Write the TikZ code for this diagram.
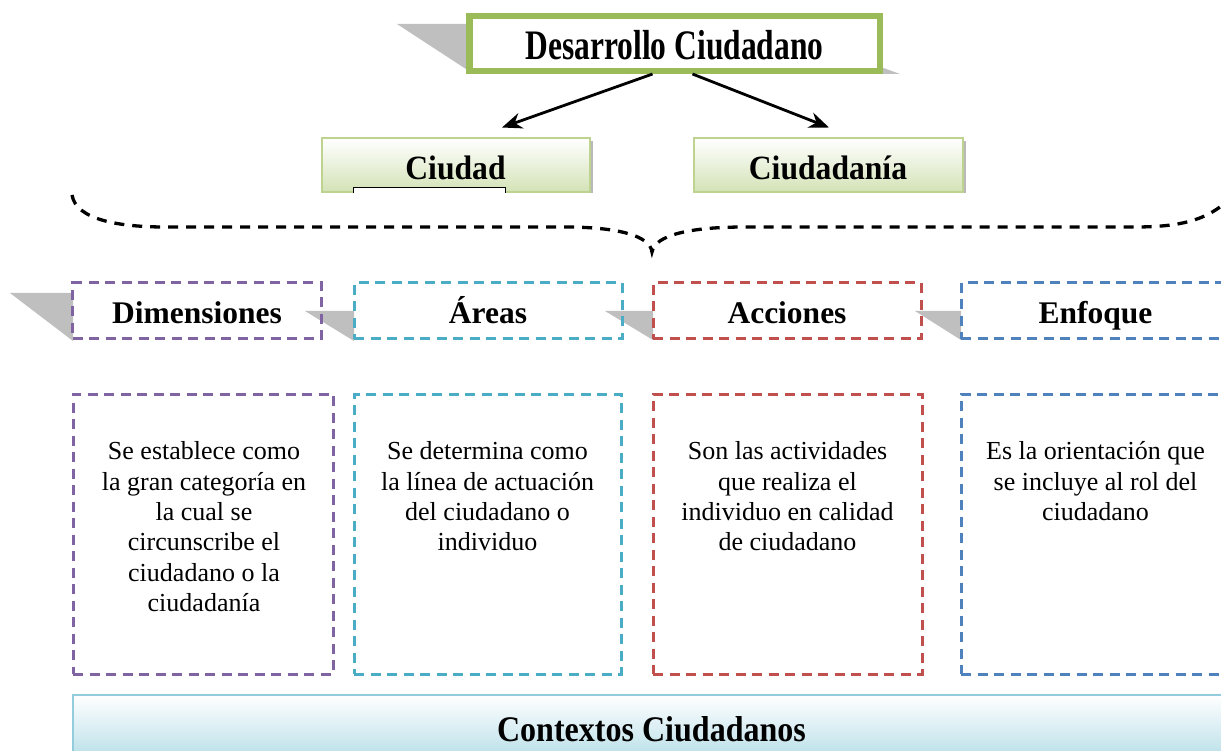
\documentclass[tikz,border=0pt]{standalone}
\usepackage{fontspec}
\setmainfont{Liberation Serif}
\newfontfamily\topfont{Liberation Serif}[FakeStretch=0.75]
\newfontfamily\cityfont{Liberation Serif}[FakeStretch=0.93]
\newfontfamily\ctxfont{Liberation Serif}[FakeStretch=0.89]
\usetikzlibrary{arrows.meta,calc}
\definecolor{topgreen}{HTML}{9BBB59}
\definecolor{cityline}{HTML}{BDD38F}
\definecolor{cityfill}{HTML}{D3E2B6}
\definecolor{cpurple}{HTML}{8064A2}
\definecolor{ccyan}{HTML}{4BACC6}
\definecolor{cred}{HTML}{C0504D}
\definecolor{cblue}{HTML}{4F81BD}
\definecolor{shade}{HTML}{BFBFBF}
\definecolor{ctxline}{HTML}{93CDDD}
\definecolor{ctxfill}{HTML}{B7DEE8}
\begin{document}
\begin{tikzpicture}[x=1pt,y=-1pt,
  toptitle/.style={draw=topgreen, line width=6.5pt, fill=white, minimum width=410.5pt, minimum height=54.75pt, inner sep=0pt, font=\topfont\bfseries\fontsize{42}{46}\selectfont, text height=33pt, text depth=0pt},
  citybox/.style={draw=cityline, line width=2pt, top color=white, bottom color=cityfill, minimum height=54pt, inner sep=0pt, font=\cityfont\bfseries\fontsize{34}{38}\selectfont, text height=29pt, text depth=0pt},
  dashbox/.style={line width=3pt, dash pattern=on 10pt off 6.5pt},
  hdr/.style={dashbox, minimum height=56pt, inner sep=0pt, font=\bfseries\fontsize{31.5}{35}\selectfont, text height=24.6pt, text depth=0pt},
  bodybox/.style={dashbox, minimum height=280pt},
  bodytxt/.style={anchor=north, align=center, inner sep=0pt, font=\fontsize{26}{30.4}\selectfont},
  tri/.style={fill=shade},
  arr/.style={line width=2.8pt, -{Stealth[length=20pt,width=16pt]}},
  brace/.style={line width=3.3pt, dash pattern=on 10pt off 8pt},
  ctxbox/.style={draw=ctxline, line width=2.5pt, top color=white, bottom color=ctxfill, minimum width=1157pt, minimum height=65pt, inner sep=0pt, font=\ctxfont\bfseries\fontsize{36}{40}\selectfont, text height=27pt, text depth=0pt}
]
\useasboundingbox (0,0) rectangle (1221,751);
\clip (0,0) rectangle (1221,751);

% top title with perspective shadow
\fill[tri] (397,24) -- (472,24) -- (472,73) -- cycle;
\fill[tri] (878,66) -- (900,74) -- (878,74) -- cycle;
\node[toptitle] (top) at (674.5,43.4) {Desarrollo Ciudadano};

% second level
\fill[gray!55] (590,141) rectangle (593,193.5);
\fill[gray!55] (963,141) rectangle (966,193.5);
\node[citybox, minimum width=268pt] (ciudad) at (455.5,165.5) {Ciudad};
\node[citybox, minimum width=269pt] (ciudadania) at (828,165.5) {Ciudadanía};
\fill[white] (353,187) rectangle (505,193.5);
\draw[line width=0.8pt] (353,193.5) -- (353,187) -- (505,187) -- (505,193.5);

\draw[arr] ([xshift=-22pt]top.south) -- ([xshift=46.5pt,yshift=10pt]ciudad.north);
\draw[arr] ([xshift=18pt]top.south) -- ([xshift=1pt,yshift=10pt]ciudadania.north);

% brace
\draw[brace] (72,195) .. controls (76,220) and (120,227) .. (165,227) -- (565,227)
  .. controls (615,227) and (650,235) .. (652,252)
  .. controls (655,235) and (690,227) .. (745,227) -- (1135,227)
  .. controls (1180,227) and (1205,220) .. (1225,203);

% shadows of headers
\fill[tri] (10,293) -- (73,293) -- (73,341) -- cycle;
\fill[tri] (305,311) -- (354,311) -- (354,341) -- cycle;
\fill[tri] (605,311) -- (653,311) -- (653,340) -- cycle;
\fill[tri] (915,311) -- (961,311) -- (961,340) -- cycle;

% headers
\node[hdr, draw=cpurple, minimum width=249pt] (hdim) at (197,311) {Dimensiones};
\node[hdr, draw=ccyan, minimum width=268pt] (hare) at (488,311) {Áreas};
\node[hdr, draw=cred, minimum width=268pt] (hacc) at (787,311) {Acciones};
\node[hdr, draw=cblue, minimum width=269pt] (henf) at (1095.5,311) {Enfoque};

% bodies
\node[bodybox, draw=cpurple, minimum width=260pt] (bdim) at (203,534) {};
\node[bodybox, draw=ccyan, minimum width=267pt] (bare) at (487.5,534) {};
\node[bodybox, draw=cred, minimum width=269pt] (bacc) at (787.5,534) {};
\node[bodybox, draw=cblue, minimum width=269pt] (benf) at (1095.5,534) {};

\node[bodytxt] (tdim) at ([xshift=1pt,yshift=-49pt]bdim.north) {Se establece como\\la gran categoría en\\la cual se\\circunscribe el\\ciudadano o la\\ciudadanía};
\node[bodytxt] (tare) at ([yshift=-49pt]bare.north) {Se determina como\\la línea de actuación\\del ciudadano o\\individuo};
\node[bodytxt] (tacc) at ([yshift=-49pt]bacc.north) {Son las actividades\\que realiza el\\individuo en calidad\\de ciudadano};
\node[bodytxt] (tenf) at ([yshift=-49pt]benf.north) {Es la orientación que\\se incluye al rol del\\ciudadano};

% bottom
\node[ctxbox] (ctx) at (651.5,727.5) {Contextos Ciudadanos};
\end{tikzpicture}
\end{document}
